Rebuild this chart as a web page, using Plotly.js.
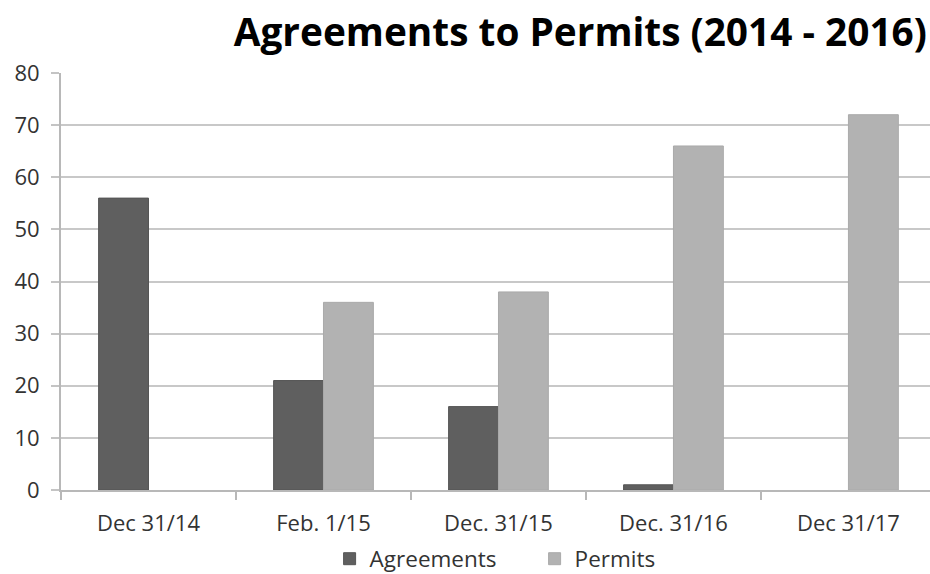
<!DOCTYPE html>
<html>
<head>
<meta charset="utf-8">
<script src="https://cdn.plot.ly/plotly-3.0.1.min.js"></script>
<style>html,body{margin:0;padding:0;background:#fff;}#chart{width:930px;height:574px;}</style>
</head>
<body>
<div id="chart"></div>
<script>
const categories = ["Dec 31/14", "Feb. 1/15", "Dec. 31/15", "Dec. 31/16", "Dec 31/17"];
const agreements = [56, 21, 16, 1, null];
const permits = [null, 36, 38, 66, 72];
const yTicks = [0, 10, 20, 30, 40, 50, 60, 70, 80];

const traces = [
  {type: "bar", name: "Agreements", x: categories, y: agreements,
   marker: {color: "#5f5f5f", line: {color: "#555555", width: 1}}},
  {type: "bar", name: "Permits", x: categories, y: permits,
   marker: {color: "#b2b2b2", line: {color: "#aaaaaa", width: 1}}}
];

const layout = {
  width: 930, height: 574,
  margin: {l: 61, r: 0, t: 73, b: 84, autoexpand: false},
  paper_bgcolor: "#ffffff", plot_bgcolor: "#ffffff",
  font: {family: "Open Sans, sans-serif", color: "#333333", size: 22},
  title: {text: "<b>Agreements to Permits (2014 - 2016)</b>", font: {family: "Open Sans, sans-serif", size: 38.8, color: "#000000"},
          x: 0.624, xanchor: "center", xref: "container", y: 0.944, yanchor: "middle", yref: "container"},
  barmode: "group", bargap: 0.43, bargroupgap: 0,
  showlegend: true,
  legend: {orientation: "h", x: 0.545, xanchor: "center", xref: "paper", y: 0.026, yanchor: "middle", yref: "container",
           font: {size: 22.5, color: "#333333"}, itemwidth: 30, traceorder: "normal", entrywidth: 160},
  xaxis: {type: "category", range: [-0.5, 4.466], showline: true, linecolor: "#b8b8b8", linewidth: 2,
          ticks: "outside", tickson: "boundaries", ticklen: 8, tickcolor: "#b8b8b8", tickwidth: 2,
          showgrid: false, fixedrange: true, ticklabelstandoff: 13},
  yaxis: {range: [0, 80], tickvals: yTicks, showline: true, linecolor: "#b8b8b8", linewidth: 2,
          ticks: "outside", ticklen: 8, tickcolor: "#c4c4c4", tickwidth: 2,
          showgrid: true, gridcolor: "#c8c8c8", gridwidth: 2, zeroline: false, fixedrange: true, ticklabelstandoff: 7}
};

Plotly.newPlot("chart", traces, layout, {displayModeBar: false, staticPlot: true});
</script>
</body>
</html>
